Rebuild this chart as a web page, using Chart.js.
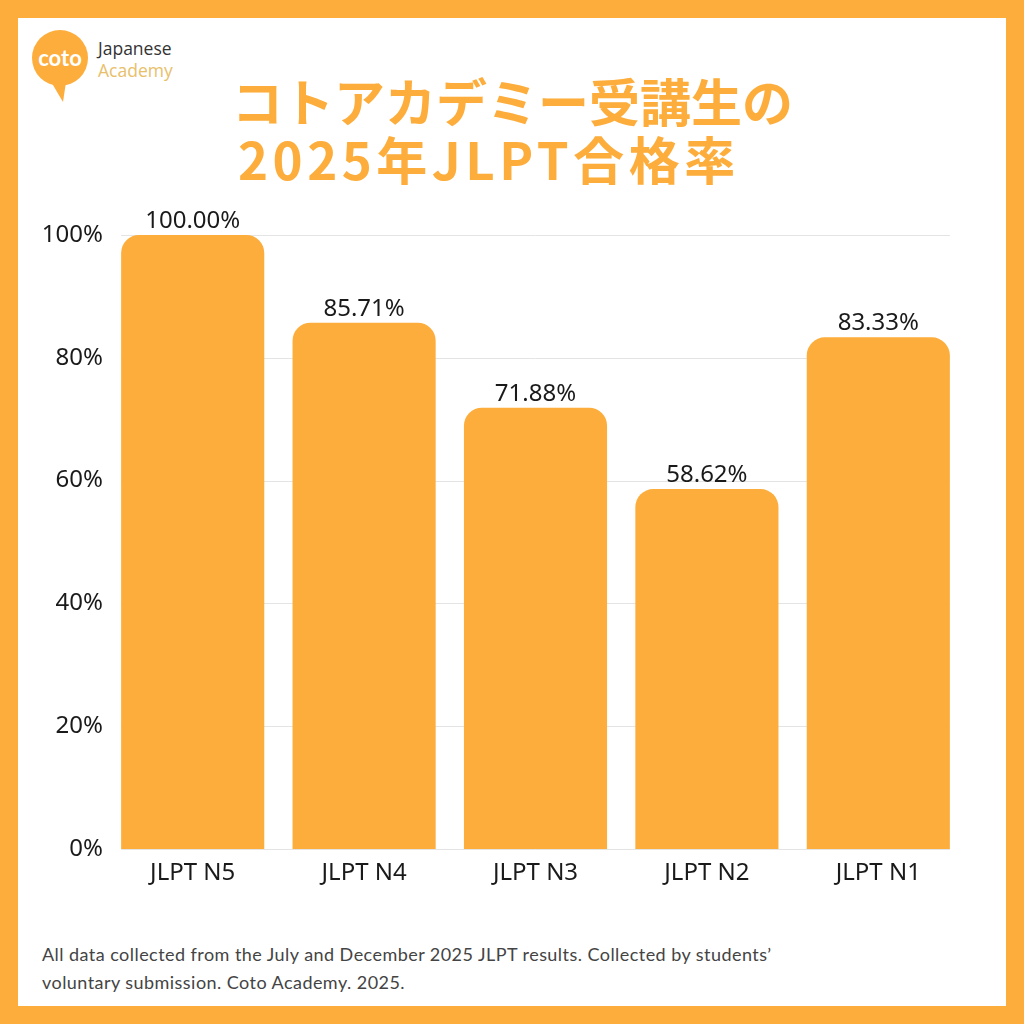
<!DOCTYPE html>
<html>
<head>
<meta charset="utf-8">
<script src="https://cdn.jsdelivr.net/npm/chart.js@4"></script>
<style>
  html, body { margin: 0; padding: 0; }
  body { width: 1024px; height: 1024px; background: #FDAD3B; position: relative; overflow: hidden; }
  #panel { position: absolute; left: 18px; top: 18px; width: 988px; height: 988px; background: #fff; }
  #logo { position: absolute; left: 30px; top: 28px; }
  #brand { position: absolute; left: 98px; top: 37px; font-family: "Open Sans", sans-serif; font-size: 17.5px; line-height: 22px; }
  #brand .a { color: #333; }
  #brand .b { color: #E8C06A; }
  #title { position: absolute; left: 232px; top: 71px; font-family: "Noto Sans CJK JP", sans-serif; font-weight: 700;
           font-size: 51px; line-height: 58px; color: #FDAD3B; white-space: nowrap; }
  #title .l2 { letter-spacing: 4.5px; margin-left: 6px; }
  #wrap { position: absolute; left: 0; top: 190px; width: 1024px; height: 720px; }
  #note { position: absolute; left: 42px; top: 940px; font-family: Lato, sans-serif; font-size: 18px; letter-spacing: 0.45px;
          line-height: 28px; color: #444; }
</style>
</head>
<body>
<div id="panel"></div>
<svg id="logo" width="64" height="76" viewBox="0 0 64 76">
  <path d="M20 52 L33 74 L36 54 Z" fill="#FDAD3B"/>
  <circle cx="30" cy="30" r="28" fill="#FDAD3B"/>
  <text x="30" y="38" text-anchor="middle" font-family="Lato, sans-serif" font-weight="700" font-size="22" fill="#fff">coto</text>
</svg>
<div id="brand"><div class="a">Japanese</div><div class="b">Academy</div></div>
<div id="title">コトアカデミー受講生の<br><span class="l2">2025年JLPT合格率</span></div>
<div id="wrap"><canvas id="passChart" width="1024" height="720"></canvas></div>
<div id="note">All data collected from the July and December 2025 JLPT results. Collected by students’<br>voluntary submission. Coto Academy. 2025.</div>

<script>
// data
const levels = ['JLPT N5', 'JLPT N4', 'JLPT N3', 'JLPT N2', 'JLPT N1'];
const passRates = [100.00, 85.71, 71.88, 58.62, 83.33];
const yTicks = [0, 20, 40, 60, 80, 100];

const barColor = '#FDAD3B';

// grid lines only between first and last bar
const gridPlugin = {
  id: 'barGrid',
  beforeDatasetsDraw(chart) {
    const bars = chart.getDatasetMeta(0).data;
    const first = bars[0], last = bars[bars.length - 1];
    const x1 = first.x - first.width / 2;
    const x2 = last.x + last.width / 2;
    const ctx = chart.ctx;
    ctx.save();
    ctx.strokeStyle = '#e4e4e4';
    ctx.lineWidth = 1;
    yTicks.forEach(t => {
      const y = Math.round(chart.scales.y.getPixelForValue(t)) + 0.5;
      ctx.beginPath();
      ctx.moveTo(x1, y);
      ctx.lineTo(x2, y);
      ctx.stroke();
    });
    ctx.restore();
  }
};

// value labels on top of bars
const labelPlugin = {
  id: 'barLabels',
  afterDatasetsDraw(chart) {
    const ctx = chart.ctx;
    ctx.save();
    ctx.font = '24px "Noto Sans"';
    ctx.fillStyle = '#1a1a1a';
    ctx.textAlign = 'center';
    ctx.textBaseline = 'bottom';
    chart.getDatasetMeta(0).data.forEach((bar, i) => {
      ctx.fillText(passRates[i].toFixed(2) + '%', bar.x, bar.y - 2);
    });
    ctx.restore();
  }
};

const ctx = document.getElementById('passChart');

const passChart = new Chart(ctx, {
  type: 'bar',
  data: {
    labels: levels,
    datasets: [{
      data: passRates,
      backgroundColor: barColor,
      borderRadius: 18,
      borderSkipped: 'start',
      categoryPercentage: 1,
      barPercentage: 0.835
    }]
  },
  options: {
    responsive: false,
    animation: false,
    layout: { padding: { top: 45, right: 60, bottom: 0, left: 0 } },
    plugins: { legend: { display: false }, tooltip: { enabled: false } },
    scales: {
      x: {
        grid: { display: false, drawTicks: false },
        border: { display: false },
        ticks: { color: '#1a1a1a', font: { family: 'Noto Sans', size: 24 }, padding: 10 },
        afterFit: s => { s.height = 61; }
      },
      y: {
        min: 0,
        max: 100,
        grid: { display: false, drawTicks: false },
        border: { display: false },
        ticks: {
          stepSize: 20,
          padding: 4,
          color: '#1a1a1a',
          font: { family: 'Noto Sans', size: 24 },
          callback: v => v + '%'
        },
        afterFit: s => { s.width = 107; }
      }
    }
  },
  plugins: [gridPlugin, labelPlugin]
});
</script>
</body>
</html>
